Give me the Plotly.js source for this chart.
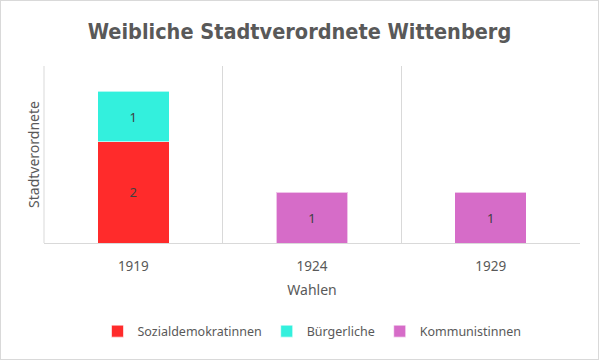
<!DOCTYPE html>
<html>
<head>
<meta charset="utf-8">
<script src="https://cdn.plot.ly/plotly-3.0.1.min.js"></script>
<style>
html,body{margin:0;padding:0;background:#fff;}
#chart{width:599px;height:360px;box-sizing:border-box;border:1px solid #d9d9d9;}
</style>
</head>
<body>
<div id="chart"></div>
<script>
const years = ["1919", "1924", "1929"];
const sozialdemokratinnen = [2, null, null];
const buergerliche = [1, null, null];
const kommunistinnen = [null, 1, 1];

const seriesNames = ["Sozialdemokratinnen", "Bürgerliche", "Kommunistinnen"];
const seriesColors = ["#ff2b2b", "#33f0dd", "#d66cc8"];
const seriesValues = [sozialdemokratinnen, buergerliche, kommunistinnen];

const traces = seriesValues.map((vals, i) => ({
  type: "bar",
  name: seriesNames[i],
  x: years,
  y: vals,
  text: vals.map(v => v == null ? "" : String(v)),
  textposition: "inside",
  insidetextanchor: "middle",
  textfont: {family: "Noto Sans", size: 13, color: "#404040"},
  marker: {color: seriesColors[i], line: {color: "rgba(255,255,255,0.6)", width: 1}},
  hoverinfo: "none"
}));

const layout = {
  width: 597, height: 358,
  barmode: "stack",
  bargap: 0.6,
  paper_bgcolor: "#fff",
  plot_bgcolor: "#fff",
  margin: {l: 43, r: 18, t: 65, b: 112},
  font: {family: "Noto Sans", color: "#595959", size: 13},
  title: {
    text: "<b>Weibliche Stadtverordnete Wittenberg</b>",
    font: {family: "DejaVu Sans Condensed, Roboto, sans-serif", size: 21.5, color: "#595959"},
    x: 0.5, xanchor: "center", y: 0.915, yanchor: "middle"
  },
  xaxis: {
    type: "category",
    tickson: "boundaries",
    showgrid: true, gridcolor: "#d9d9d9", gridwidth: 1,
    showline: true, linecolor: "#d9d9d9", linewidth: 1,
    ticks: "", ticklen: 0,
    ticklabelstandoff: 11,
    tickfont: {size: 13.5, color: "#595959"},
    title: {text: "Wahlen", font: {size: 14, color: "#595959"}, standoff: 10},
    fixedrange: true
  },
  yaxis: {
    range: [0, 3.5],
    showgrid: false, zeroline: false,
    showticklabels: false, ticks: "",
    showline: false,
    title: {text: "Stadtverordnete", font: {size: 14, color: "#595959"}, standoff: 0},
    fixedrange: true
  },
  showlegend: true,
  legend: {
    orientation: "h",
    x: 0.5, xanchor: "center",
    y: -0.5, yanchor: "middle",
    font: {size: 12.5, color: "#595959"},
    itemwidth: 30,
    traceorder: "normal"
  },
  shapes: [{
    type: "line", xref: "paper", yref: "paper",
    x0: 0, x1: 0, y0: 0, y1: 1,
    line: {color: "#d9d9d9", width: 1}
  }]
};

Plotly.newPlot("chart", traces, layout, {displayModeBar: false, staticPlot: true});
</script>
</body>
</html>
